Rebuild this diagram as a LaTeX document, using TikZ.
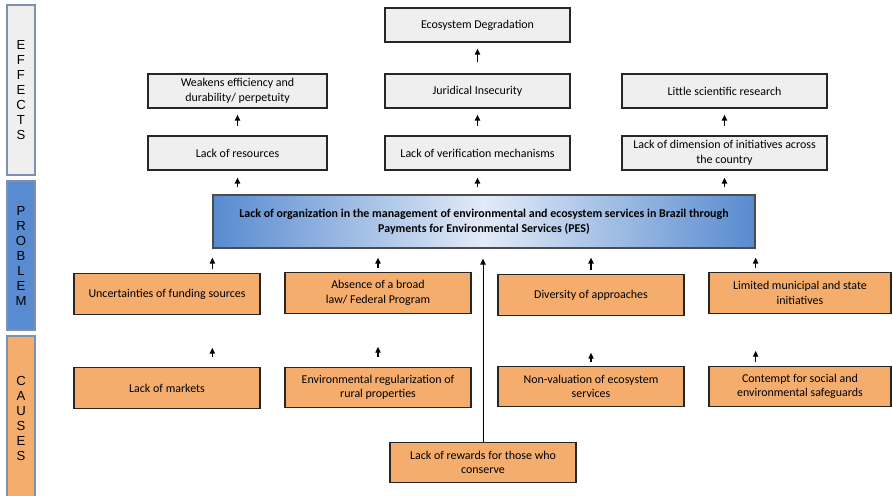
\documentclass[tikz,border=0pt]{standalone}
\usepackage{fontspec}
\setmainfont{Carlito}
\newfontfamily\barfont{Liberation Sans}
\usetikzlibrary{arrows.meta, calc}
\definecolor{effgray}{RGB}{239,239,239}
\definecolor{causeorange}{RGB}{245,173,110}
\definecolor{probblue}{RGB}{88,139,208}
\definecolor{probpale}{RGB}{226,235,247}
\definecolor{barline}{RGB}{125,145,172}
\tikzset{
  sidebar/.style={draw=barline, line width=1.1pt, minimum width=0.84cm, align=center, inner sep=0pt,
    font=\barfont\fontsize{11.2}{12.8}\selectfont},
  effbox/.style={draw=black!85, line width=1.1pt, fill=effgray, minimum height=1.02cm, align=center,
    inner sep=1pt, font=\fontsize{10.2}{12.4}\selectfont},
  causebox/.style={draw=black!85, line width=1.1pt, fill=causeorange, minimum width=5.58cm, minimum height=1.21cm,
    align=center, inner sep=1pt, font=\fontsize{10.2}{12.4}\selectfont},
  upar/.style={-{Triangle[length=5pt,width=4.5pt]}, line width=1pt}
}

\begin{document}
\begin{tikzpicture}[x=0.03cm, y=-0.03cm]
\clip (0,0) rectangle (893,495);
% side labels
\node[sidebar, fill=effgray, minimum height=5.1cm] (effbar) at (21,90) {E\\F\\F\\E\\C\\T\\S};
\node[sidebar, fill=probblue, minimum height=4.47cm] (probbar) at (21,255.5) {P\\R\\O\\B\\L\\E\\M};
\node[sidebar, fill=causeorange, minimum height=4.92cm] (causbar) at (21,418) {C\\A\\U\\S\\E\\S};
% effects
\node[effbox, minimum width=5.55cm] (eco) at (477.5,25) {Ecosystem Degradation};
\node[effbox, minimum width=5.37cm] (weak) at (237.5,91) {Weakens efficiency and\\durability/ perpetuity};
\node[effbox, minimum width=5.55cm] (jur) at (477.5,91) {Juridical Insecurity};
\node[effbox, minimum width=6.15cm] (sci) at (724.5,91) {Little scientific research};
\node[effbox, minimum width=5.37cm] (res) at (237.5,153) {Lack of resources};
\node[effbox, minimum width=5.55cm] (ver) at (477.5,153) {Lack of verification mechanisms};
\node[effbox, minimum width=6.15cm] (dim) at (724.5,153) {Lack of dimension of initiatives across\\the country};
% problem
\node[draw=black!70, line width=1.1pt, left color=probblue, right color=probblue, middle color=probpale,
  minimum width=16.26cm, minimum height=1.59cm, align=center, font=\fontsize{10.2}{12.4}\selectfont\bfseries]
  (pes) at (484,221.5) {Lack of organization in the management of environmental and ecosystem services in Brazil through\\Payments for Environmental Services (PES)};
% causes
\node[causebox] (unc) at (167,294) {Uncertainties of funding sources};
\node[causebox] (abs) at (378,293) {Absence of a broad\\law/ Federal Program};
\node[causebox] (div) at (591,295) {Diversity of approaches};
\node[causebox, minimum width=5.46cm] (lim) at (800,293) {Limited municipal and state\\initiatives};
\node[causebox] (mkt) at (167,388) {Lack of markets};
\node[causebox] (reg) at (378,387.5) {Environmental regularization of\\rural properties};
\node[causebox] (val) at (591,386.5) {Non-valuation of ecosystem\\services};
\node[causebox, minimum width=5.46cm] (con) at (800,386.5) {Contempt for social and\\environmental safeguards};
\node[causebox] (rew) at (483,462.5) {Lack of rewards for those who\\conserve};
% arrows
\foreach \a/\b in {res/weak, ver/jur, dim/sci}
  \draw[upar, shorten <=0.27cm, shorten >=0.18cm] (\a) -- (\b);
\draw[upar, shorten <=0.33cm, shorten >=0.18cm] (jur) -- (eco);
\foreach \b in {res, ver, dim}
  \draw[upar, shorten <=0.21cm, shorten >=0.21cm] (pes.north -| \b) -- (\b);
\draw[upar, shorten <=0.12cm, shorten >=0.27cm] (unc.north -| pes.south west) -- (pes.south west);
\draw[upar, shorten <=0.12cm, shorten >=0.27cm] (abs) -- (abs |- pes.south);
\draw[upar, shorten <=0.12cm, shorten >=0.27cm] (div) -- (div |- pes.south);
\draw[upar, shorten <=0.12cm, shorten >=0.27cm] (lim.north -| pes.south east) -- (pes.south east);
\draw[upar, shorten <=0.3cm, shorten >=0.99cm] (mkt.north -| pes.south west) -- (unc.south -| pes.south west);
\draw[upar, shorten <=0.3cm, shorten >=0.99cm] (reg) -- (abs);
\draw[upar, shorten <=0.1cm, shorten >=1.11cm] (val) -- (div);
\draw[upar, shorten <=0.1cm, shorten >=1.11cm] (con.north -| pes.south east) -- (lim.south -| pes.south east);
\draw[upar, line width=0.8pt, shorten >=0.3cm] (rew) -- (rew |- pes.south);
\end{tikzpicture}
\end{document}
